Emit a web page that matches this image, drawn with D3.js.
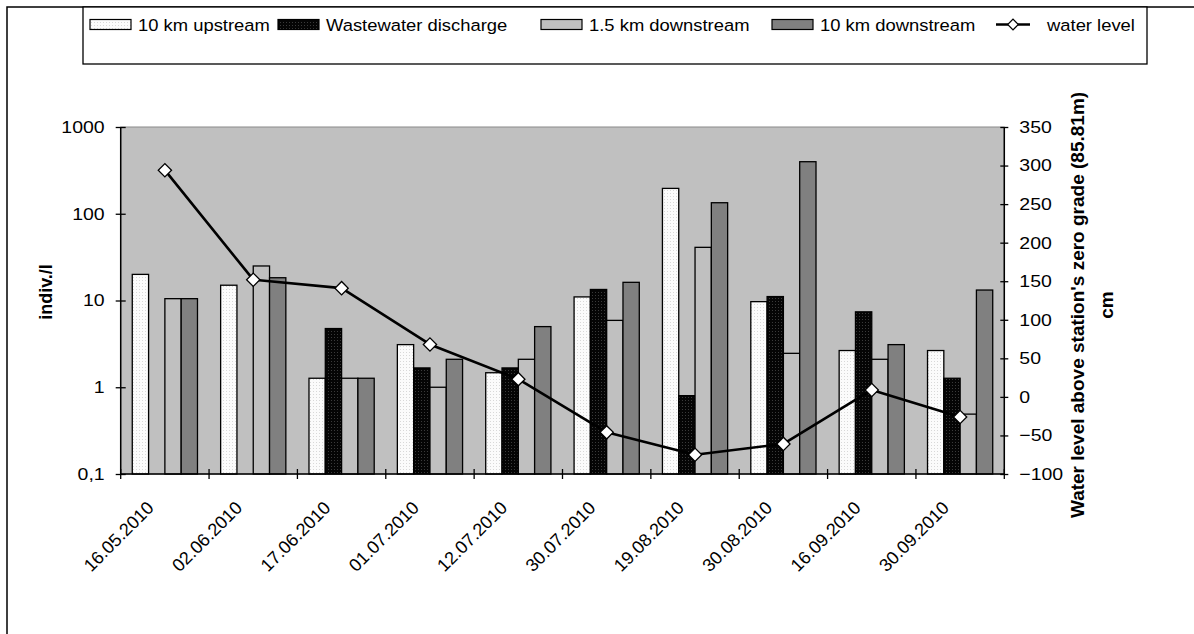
<!DOCTYPE html>
<html>
<head>
<meta charset="utf-8">
<script src="https://cdn.jsdelivr.net/npm/d3@7"></script>
<style>
  html, body { margin: 0; padding: 0; background: #fff; }
  svg { display: block; font-family: "Liberation Sans", Arial, sans-serif; }
</style>
</head>
<body>
<svg id="chart" width="1194" height="634"></svg>
<script>
// Sampling dates
const dates = ["16.05.2010", "02.06.2010", "17.06.2010", "01.07.2010", "12.07.2010",
               "30.07.2010", "19.08.2010", "30.08.2010", "16.09.2010", "30.09.2010"];

// Abundance (indiv./l) per station; null = not sampled
const upstream10   = [20, 15, 1.27, 3.1, 1.47, 11, 196, 9.7, 2.65, 2.65];
const wastewater   = [null, null, 4.75, 1.67, 1.67, 13.4, 0.8, 11.1, 7.4, 1.27];
const downstream15 = [10.5, 25, 1.27, 1.0, 2.1, 5.9, 41, 2.46, 2.1, 0.49];
const downstream10 = [10.5, 18.3, 1.27, 2.1, 5.0, 16.2, 134, 398, 3.1, 13.2];

// Water level above the station's zero grade, cm
const waterLevel = [294, 152, 141, 68, 23, -46, -75, -61, 9, -26];

const seriesNames = ["10 km upstream", "Wastewater discharge", "1.5 km downstream", "10 km downstream"];
const lineName = "water level";

const leftTicks = [0.1, 1, 10, 100, 1000];
const leftTickLabels = ["0,1", "1", "10", "100", "1000"];
const rightTicks = [-100, -50, 0, 50, 100, 150, 200, 250, 300, 350];

const leftTitle = "indiv./l";
const rightTitle = ["Water level above station's zero grade (85.81m)", "cm"];

// ---------------------------------------------------------------
const svg = d3.select("#chart");
const FS = 18;          // date labels
const FS_TICK = 19.5;   // value axis labels
const FS_LEG = 18.4;    // legend entries
const SQ = 0.86;        // vertical squash of horizontal text

const plot = { left: 120.7, right: 1004.3, top: 127, bottom: 474 };

const seriesValues = [upstream10, wastewater, downstream15, downstream10];

// fills
const defs = svg.append("defs");
const pUp = defs.append("pattern").attr("id", "fillUp")
  .attr("width", 3).attr("height", 3).attr("patternUnits", "userSpaceOnUse");
pUp.append("rect").attr("width", 3).attr("height", 3).attr("fill", "#fbfbfb");
pUp.append("rect").attr("x", 1).attr("y", 1).attr("width", 1).attr("height", 1).attr("fill", "#d8d8d8");
const pWw = defs.append("pattern").attr("id", "fillWw")
  .attr("width", 3).attr("height", 3).attr("patternUnits", "userSpaceOnUse");
pWw.append("rect").attr("width", 3).attr("height", 3).attr("fill", "#050505");
pWw.append("rect").attr("x", 1).attr("y", 1).attr("width", 1).attr("height", 1).attr("fill", "#3a3a3a");

const fills = ["url(#fillUp)", "url(#fillWw)", "#c0c0c0", "#808080"];

// outer frame
svg.append("rect").attr("x", 7).attr("y", 7).attr("width", 1300).attr("height", 800)
  .attr("fill", "none").attr("stroke", "#000").attr("stroke-width", 1.5);

// scales
const x0 = d3.scaleBand().domain(dates).range([plot.left, plot.right]).padding(0);
const bw = x0.bandwidth();
const x1 = d3.scaleBand().domain(seriesNames).range([bw * 0.131, bw * 0.869]).padding(0);
const yLog = d3.scaleLog().domain([0.1, 1000]).range([plot.bottom, plot.top]);
const yLvl = d3.scaleLinear().domain([-100, 350]).range([plot.bottom, plot.top]);

// plot area
svg.append("rect")
  .attr("x", plot.left).attr("y", plot.top)
  .attr("width", plot.right - plot.left).attr("height", plot.bottom - plot.top)
  .attr("fill", "#c0c0c0").attr("stroke", "#8a8a8a").attr("stroke-width", 1);

// bars
const barData = [];
dates.forEach((d, i) => {
  seriesNames.forEach((s, k) => {
    const v = seriesValues[k][i];
    if (v != null) barData.push({ date: d, series: s, k, v });
  });
});
svg.append("g").selectAll("rect").data(barData).join("rect")
  .attr("x", d => x0(d.date) + x1(d.series))
  .attr("width", x1.bandwidth())
  .attr("y", d => yLog(d.v))
  .attr("height", d => yLog(0.1) - yLog(d.v))
  .attr("fill", d => fills[d.k])
  .attr("stroke", "#000").attr("stroke-width", 1.3);

// left axis
const axL = svg.append("g").attr("transform", `translate(${plot.left},0)`)
  .call(d3.axisLeft(yLog).tickValues(leftTicks)
    .tickFormat((d, i) => leftTickLabels[i]).tickSize(5).tickPadding(11));
axL.selectAll(".tick line").attr("x1", 5).attr("stroke-width", 1.3);
axL.select(".domain").attr("stroke-width", 1.5).attr("d", `M0,${plot.top}V${plot.bottom}`);

// right axis
const axR = svg.append("g").attr("transform", `translate(${plot.right},0)`)
  .call(d3.axisRight(yLvl).tickValues(rightTicks).tickSize(4).tickPadding(11));
axR.selectAll(".tick line").attr("x1", -4).attr("stroke-width", 1.3);
axR.select(".domain").attr("stroke-width", 1.5).attr("d", `M0,${plot.top}V${plot.bottom}`);

[axL, axR].forEach(ax => {
  ax.attr("font-family", null).attr("font-size", null);
  ax.selectAll(".tick text")
    .attr("font-size", FS_TICK).attr("fill", "#000")
    .attr("transform", `scale(1,${SQ})`);
});

// bottom axis: line plus boundary ticks between dates
const axB = svg.append("g").attr("transform", `translate(0,${plot.bottom})`);
axB.append("line").attr("x1", plot.left).attr("x2", plot.right)
  .attr("stroke", "#000").attr("stroke-width", 1.5);
const bounds = dates.map(d => x0(d)).concat([x0(dates[dates.length - 1]) + bw]);
axB.selectAll("line.tk").data(bounds).join("line").attr("class", "tk")
  .attr("x1", d => d).attr("x2", d => d).attr("y1", -5).attr("y2", 5)
  .attr("stroke", "#000").attr("stroke-width", 1.3);

// date labels
svg.append("g").selectAll("text").data(dates).join("text")
  .attr("transform", d => `translate(${x0(d) + bw / 2 - 10},${plot.bottom + 35}) rotate(-45)`)
  .attr("text-anchor", "end").attr("font-size", FS).attr("fill", "#000")
  .text(d => d);

// water level line
const line = d3.line()
  .x((d, i) => x0(dates[i]) + bw / 2)
  .y(d => yLvl(d));
svg.append("path").datum(waterLevel)
  .attr("d", line).attr("fill", "none")
  .attr("stroke", "#000").attr("stroke-width", 2.6).attr("stroke-linejoin", "round");

const diamond = d3.symbol().type(d3.symbolSquare).size(88);
svg.append("g").selectAll("path").data(waterLevel).join("path")
  .attr("transform", (d, i) => `translate(${x0(dates[i]) + bw / 2},${yLvl(d)}) rotate(45)`)
  .attr("d", diamond).attr("fill", "#fff").attr("stroke", "#000").attr("stroke-width", 1.3);

// axis titles
svg.append("text")
  .attr("transform", `translate(52,292) rotate(-90)`)
  .attr("text-anchor", "middle").attr("font-size", FS).attr("font-weight", "bold")
  .text(leftTitle);

svg.append("g").selectAll("text").data(rightTitle).join("text")
  .attr("transform", (d, i) => `translate(${1084 + i * 29},305) rotate(-90)`)
  .attr("text-anchor", "middle").attr("font-size", 19).attr("font-weight", "bold")
  .text(d => d);

// legend
const lg = svg.append("g");
lg.append("rect").attr("x", 83).attr("y", 7).attr("width", 1064).attr("height", 57)
  .attr("fill", "#fff").attr("stroke", "#000").attr("stroke-width", 1.3);
const swatchX = [90, 278, 541, 772];
const legendTextY = 31;
seriesNames.forEach((s, k) => {
  lg.append("rect").attr("x", swatchX[k]).attr("y", 19.5).attr("width", 41).attr("height", 10)
    .attr("fill", fills[k]).attr("stroke", "#000").attr("stroke-width", 1.2);
  lg.append("text")
    .attr("transform", `translate(${swatchX[k] + 48},${legendTextY}) scale(1,${SQ})`)
    .attr("font-size", FS_LEG).text(s);
});
lg.append("line").attr("x1", 996).attr("x2", 1030).attr("y1", 24.5).attr("y2", 24.5)
  .attr("stroke", "#000").attr("stroke-width", 2.6);
lg.append("path").attr("transform", `translate(1013,24.5) rotate(45)`)
  .attr("d", d3.symbol().type(d3.symbolSquare).size(56))
  .attr("fill", "#fff").attr("stroke", "#000").attr("stroke-width", 1.2);
lg.append("text")
  .attr("transform", `translate(1047,${legendTextY}) scale(1,${SQ})`)
  .attr("font-size", FS_LEG).text(lineName);
</script>
</body>
</html>
